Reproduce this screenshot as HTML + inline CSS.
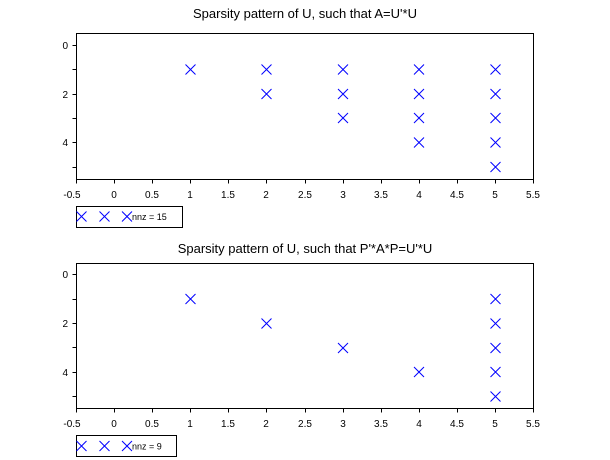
<!DOCTYPE html>
<html><head><style>body{margin:0;background:#fff}svg{display:block}</style></head><body>
<svg width="610" height="460" xmlns="http://www.w3.org/2000/svg" font-family="Liberation Sans, Arial, sans-serif">
<rect width="610" height="460" fill="#fff"/>
<defs>
<g id="m"><path d="M-5,-5L5,5M-5,5L5,-5" stroke="#0000ff" stroke-width="1" fill="none"/></g>
</defs>
<!-- Plot 1 -->
<text x="305" y="18" font-size="13" text-anchor="middle">Sparsity pattern of U, such that A=U'*U</text>
<g stroke="#000" stroke-width="1" fill="none">
<rect x="76.5" y="33.5" width="457" height="146"/>
<path d="M76.5,179.5v4M114.5,179.5v4M152.5,179.5v4M190.5,179.5v4M228.5,179.5v4M266.5,179.5v4M305.5,179.5v4M343.5,179.5v4M381.5,179.5v4M419.5,179.5v4M457.5,179.5v4M495.5,179.5v4M533.5,179.5v4"/>
<path d="M76.5,45.5h-4M76.5,69.5h-4M76.5,94.5h-4M76.5,118.5h-4M76.5,142.5h-4M76.5,167.5h-4"/>
</g>
<g font-size="10" text-anchor="middle">
<text x="72" y="198">-0.5</text><text x="114" y="198">0</text><text x="152" y="198">0.5</text><text x="190" y="198">1</text><text x="228" y="198">1.5</text><text x="266" y="198">2</text><text x="305" y="198">2.5</text><text x="343" y="198">3</text><text x="381" y="198">3.5</text><text x="419" y="198">4</text><text x="457" y="198">4.5</text><text x="495" y="198">5</text><text x="533" y="198">5.5</text>
</g>
<g font-size="10" text-anchor="end">
<text x="68" y="49">0</text><text x="68" y="98">2</text><text x="68" y="146">4</text>
</g>
<use href="#m" x="190.5" y="69.5"/>
<use href="#m" x="266.5" y="69.5"/><use href="#m" x="266.5" y="94"/>
<use href="#m" x="343" y="69.5"/><use href="#m" x="343" y="94"/><use href="#m" x="343" y="118"/>
<use href="#m" x="419" y="69.5"/><use href="#m" x="419" y="94"/><use href="#m" x="419" y="118"/><use href="#m" x="419" y="142.5"/>
<use href="#m" x="495.5" y="69.5"/><use href="#m" x="495.5" y="94"/><use href="#m" x="495.5" y="118"/><use href="#m" x="495.5" y="142.5"/><use href="#m" x="495.5" y="167"/>
<rect x="76.5" y="206.5" width="106" height="21" fill="#fff" stroke="#000"/>
<use href="#m" x="81.5" y="216.5"/><use href="#m" x="104.5" y="216.5"/><use href="#m" x="127" y="216.5"/>
<text x="132" y="220" font-size="9">nnz = 15</text>
<!-- Plot 2 -->
<text x="305" y="253" font-size="13" text-anchor="middle">Sparsity pattern of U, such that P'*A*P=U'*U</text>
<g stroke="#000" stroke-width="1" fill="none">
<rect x="76.5" y="263.5" width="457" height="145"/>
<path d="M76.5,408.5v4M114.5,408.5v4M152.5,408.5v4M190.5,408.5v4M228.5,408.5v4M266.5,408.5v4M305.5,408.5v4M343.5,408.5v4M381.5,408.5v4M419.5,408.5v4M457.5,408.5v4M495.5,408.5v4M533.5,408.5v4"/>
<path d="M76.5,274.5h-4M76.5,299.5h-4M76.5,323.5h-4M76.5,347.5h-4M76.5,372.5h-4M76.5,396.5h-4"/>
</g>
<g font-size="10" text-anchor="middle">
<text x="72" y="427">-0.5</text><text x="114" y="427">0</text><text x="152" y="427">0.5</text><text x="190" y="427">1</text><text x="228" y="427">1.5</text><text x="266" y="427">2</text><text x="305" y="427">2.5</text><text x="343" y="427">3</text><text x="381" y="427">3.5</text><text x="419" y="427">4</text><text x="457" y="427">4.5</text><text x="495" y="427">5</text><text x="533" y="427">5.5</text>
</g>
<g font-size="10" text-anchor="end">
<text x="68" y="278">0</text><text x="68" y="327">2</text><text x="68" y="376">4</text>
</g>
<use href="#m" x="190.5" y="299"/>
<use href="#m" x="266.5" y="323.5"/>
<use href="#m" x="343" y="348"/>
<use href="#m" x="419" y="372"/>
<use href="#m" x="495.5" y="299"/><use href="#m" x="495.5" y="323.5"/><use href="#m" x="495.5" y="348"/><use href="#m" x="495.5" y="372"/><use href="#m" x="495.5" y="396.5"/>
<rect x="76.5" y="435.5" width="100" height="21" fill="#fff" stroke="#000"/>
<use href="#m" x="81.5" y="446"/><use href="#m" x="104.5" y="446"/><use href="#m" x="127" y="446"/>
<text x="132" y="449.5" font-size="9">nnz = 9</text>
</svg>
</body></html>
